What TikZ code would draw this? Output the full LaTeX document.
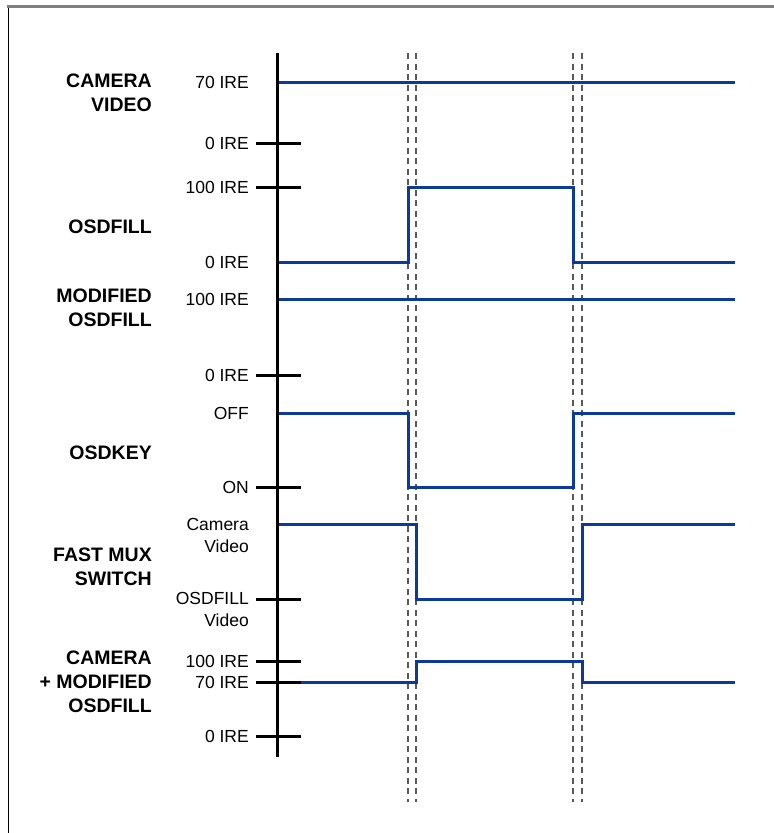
\documentclass[tikz,border=0pt]{standalone}
\usepackage{fontspec}
\setmainfont{Liberation Sans}

\begin{document}
\begin{tikzpicture}[x=1pt,y=-1pt,line cap=butt,
  sig/.style={draw=sigblue,line width=3pt,line join=miter},
  axtick/.style={draw=black,line width=3pt},
  guide/.style={draw=black!65,line width=2pt,dash pattern=on 6pt off 4.5pt},
  rowlabel/.style={font=\bfseries\fontsize{19.5}{24}\selectfont,align=right,anchor=east,inner sep=0pt},
  lvl/.style={font=\fontsize{17.5}{22}\selectfont,align=right,anchor=east,inner sep=0pt}]
\definecolor{sigblue}{HTML}{0B3A9A}
\definecolor{framegray}{HTML}{7F7F7F}
\useasboundingbox (0,0) rectangle (774,833);
% frame
\draw[framegray,line width=3pt] (7,6.5) -- (774,6.5);
\draw[black,line width=1pt] (8,8) -- (8,833);
% timing guides
\draw[guide] (408,53) -- (408,802);
\draw[guide] (416,53) -- (416,802);
\draw[guide] (573,53) -- (573,802);
\draw[guide] (582,53) -- (582,802);
% signals
\draw[sig] (277,82) -- (735,82);
\draw[sig] (277,262) -- (408,262) -- (408,187) -- (573,187) -- (573,262) -- (735,262);
\draw[sig] (277,299) -- (735,299);
\draw[sig] (277,413) -- (408,413) -- (408,487) -- (573,487) -- (573,413) -- (735,413);
\draw[sig] (277,524) -- (416,524) -- (416,599) -- (582,599) -- (582,524) -- (735,524);
\draw[sig] (277,682) -- (416,682) -- (416,661) -- (582,661) -- (582,682) -- (735,682);
% axis and ticks
\draw[axtick] (277,53) -- (277,757);
\foreach \ty in {143,187,375,487,599,661,682,736}
  \draw[axtick] (256,\ty) -- (301,\ty);
% level labels
\node[lvl] (camhi) at (249,82) {70 IRE};
\node[lvl] (camlo) at (249,143) {0 IRE};
\node[lvl] (fillhi) at (249,187) {100 IRE};
\node[lvl] (filllo) at (249,262) {0 IRE};
\node[lvl] (modhi) at (249,299) {100 IRE};
\node[lvl] (modlo) at (249,375) {0 IRE};
\node[lvl] (keyoff) at (249,413) {OFF};
\node[lvl] (keyon) at (249,487) {ON};
\node[lvl] (muxcam) at (249,535) {Camera\\Video};
\node[lvl] (muxfill) at (249,609.5) {OSDFILL\hspace{6pt}\\Video};
\node[lvl] (sumhi) at (249,661) {100 IRE};
\node[lvl] (summid) at (249,682) {70 IRE};
\node[lvl] (sumlo) at (249,736) {0 IRE};
% signal names
\node[rowlabel] (camvideo) at (152,92.5) {CAMERA\\VIDEO};
\node[rowlabel] (osdfill) at (152,227) {OSDFILL};
\node[rowlabel] (modfill) at (152,308) {MODIFIED\\OSDFILL};
\node[rowlabel] (osdkey) at (152,453) {OSDKEY};
\node[rowlabel] (muxsw) at (152,567) {FAST MUX\\SWITCH};
\node[rowlabel] (camsum) at (152,682) {CAMERA\\+ MODIFIED\\OSDFILL};
\end{tikzpicture}
\end{document}
